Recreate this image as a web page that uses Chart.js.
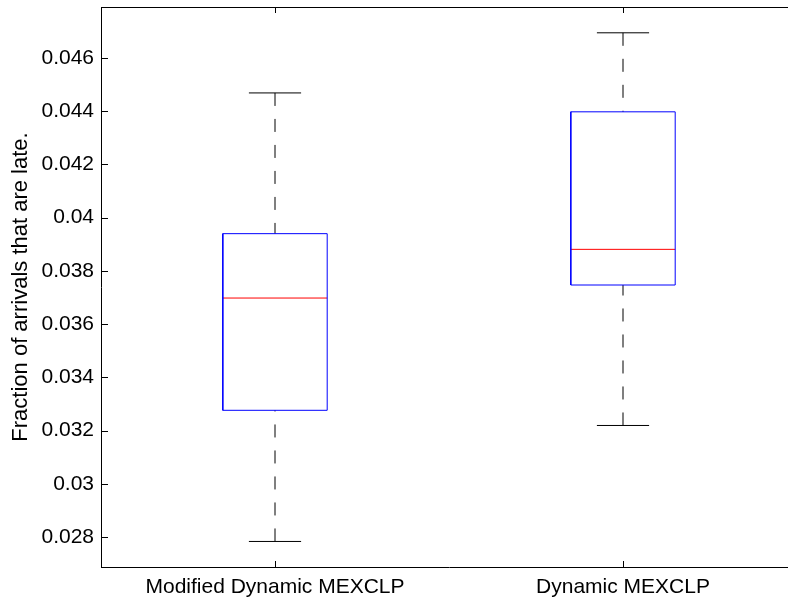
<!DOCTYPE html>
<html>
<head>
<meta charset="utf-8">
<script src="https://cdn.jsdelivr.net/npm/chart.js@4.4.0/dist/chart.umd.min.js"></script>
<style>
    html, body { margin: 0; padding: 0; background: #ffffff; overflow: hidden; }
    #wrap { width: 788px; height: 598px; overflow: hidden; }
</style>
</head>
<body>
<div id="wrap"><canvas id="boxChart" width="800" height="598"></canvas></div>
<script>
// Data (MATLAB style boxplot)
const categories = ['Modified Dynamic MEXCLP', 'Dynamic MEXCLP'];
const whiskerLow = [0.02783, 0.03219];
const quartile1 = [0.03276, 0.03747];
const medians = [0.03698, 0.03881];
const quartile3 = [0.03940, 0.04398];
const whiskerHigh = [0.04469, 0.04695];

const yTicks = [0.028, 0.030, 0.032, 0.034, 0.036, 0.038, 0.040, 0.042, 0.044, 0.046];
const yTickLabels = ['0.028', '0.03', '0.032', '0.034', '0.036', '0.038', '0.04', '0.042', '0.044', '0.046'];

const FONT = 'Liberation Sans, Arial, Helvetica, sans-serif';
const BOX_HALF = 0.15;
const CAP_HALF = 0.075;

/**
 * Build line datasets for every box
 */
function buildDatasets() {
    const sets = [];
    categories.forEach(function(name, i) {
        const x = i + 1;
        // box outline
        sets.push({
            data: [
                { x: x - BOX_HALF, y: quartile1[i] },
                { x: x + BOX_HALF, y: quartile1[i] },
                { x: x + BOX_HALF, y: quartile3[i] },
                { x: x - BOX_HALF, y: quartile3[i] },
                { x: x - BOX_HALF, y: quartile1[i] }
            ],
            borderColor: '#0000ff'
        });
        // median
        sets.push({
            data: [{ x: x - BOX_HALF, y: medians[i] }, { x: x + BOX_HALF, y: medians[i] }],
            borderColor: '#ff0000'
        });
        // whiskers (dashed)
        sets.push({
            data: [{ x: x, y: whiskerHigh[i] }, { x: x, y: quartile3[i] }],
            borderColor: '#000000',
            borderDash: [13, 13]
        });
        sets.push({
            data: [{ x: x, y: whiskerLow[i] }, { x: x, y: quartile1[i] }],
            borderColor: '#000000',
            borderDash: [13, 13]
        });
        // caps
        sets.push({
            data: [{ x: x - CAP_HALF, y: whiskerHigh[i] }, { x: x + CAP_HALF, y: whiskerHigh[i] }],
            borderColor: '#000000'
        });
        sets.push({
            data: [{ x: x - CAP_HALF, y: whiskerLow[i] }, { x: x + CAP_HALF, y: whiskerLow[i] }],
            borderColor: '#000000'
        });
    });
    sets.forEach(function(s) {
        s.showLine = true;
        s.pointRadius = 0;
        s.borderWidth = 1;
        s.tension = 0;
    });
    return sets;
}

/**
 * Inward tick marks and the top frame line, MATLAB style
 */
const framePlugin = {
    id: 'frame',
    afterDraw: function(chart) {
        const ctx = chart.ctx;
        const area = chart.chartArea;
        const xs = chart.scales.x;
        const ys = chart.scales.y;
        ctx.save();
        ctx.strokeStyle = '#000000';
        ctx.lineWidth = 1;
        ctx.beginPath();
        ctx.moveTo(area.left, Math.round(area.top) + 0.5);
        ctx.lineTo(area.right, Math.round(area.top) + 0.5);
        ys.ticks.forEach(function(t) {
            const y = Math.round(ys.getPixelForValue(t.value)) + 0.5;
            ctx.moveTo(area.left, y);
            ctx.lineTo(area.left + 7, y);
        });
        xs.ticks.forEach(function(t) {
            const x = Math.round(xs.getPixelForValue(t.value)) + 0.5;
            ctx.moveTo(x, area.bottom);
            ctx.lineTo(x, area.bottom - 6);
            ctx.moveTo(x, area.top);
            ctx.lineTo(x, area.top + 6);
        });
        ctx.stroke();
        ctx.restore();
    }
};

const chart = new Chart(document.getElementById('boxChart'), {
    type: 'scatter',
    data: { datasets: buildDatasets() },
    plugins: [framePlugin],
    options: {
        responsive: false,
        animation: false,
        layout: { padding: { top: 7, right: 3, left: 0, bottom: 0 } },
        plugins: {
            legend: { display: false },
            tooltip: { enabled: false }
        },
        scales: {
            x: {
                type: 'linear',
                min: 0.5,
                max: 2.5,
                afterBuildTicks: function(scale) {
                    scale.ticks = categories.map(function(c, i) { return { value: i + 1 }; });
                },
                afterFit: function(scale) {
                    scale.height = 31;
                    scale.paddingLeft = 0;
                    scale.paddingRight = 0;
                },
                grid: { display: false, drawTicks: false },
                border: { display: true, color: '#000000', width: 1 },
                ticks: {
                    color: '#000000',
                    padding: 8,
                    maxRotation: 0,
                    font: { family: FONT, size: 21 },
                    callback: function(value) { return categories[Math.round(value) - 1] || ''; }
                }
            },
            y: {
                min: 0.02687,
                max: 0.04792,
                afterBuildTicks: function(scale) {
                    scale.ticks = yTicks.map(function(v) { return { value: v }; });
                },
                afterFit: function(scale) {
                    scale.width = 101;
                    scale.paddingTop = 0;
                    scale.paddingBottom = 0;
                },
                grid: { display: false, drawTicks: false },
                border: { display: true, color: '#000000', width: 1 },
                ticks: {
                    color: '#000000',
                    padding: 7,
                    font: { family: FONT, size: 21 },
                    callback: function(value) {
                        const idx = yTicks.findIndex(function(v) { return Math.abs(v - value) < 1e-9; });
                        return idx >= 0 ? yTickLabels[idx] : '';
                    }
                },
                title: {
                    display: true,
                    text: 'Fraction of arrivals that are late.',
                    color: '#000000',
                    padding: { top: 8, bottom: 0 },
                    font: { family: FONT, size: 22 }
                }
            }
        }
    }
});
</script>
</body>
</html>
